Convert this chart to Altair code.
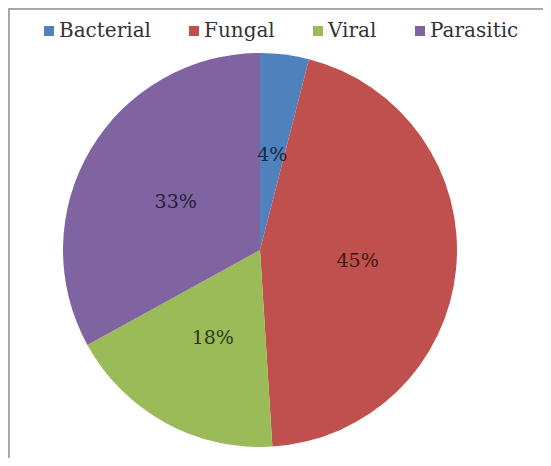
import altair as alt
import pandas as pd

categories = ["Bacterial", "Fungal", "Viral", "Parasitic"]
values = [4, 45, 18, 33]
labels = ["4%", "45%", "18%", "33%"]
colors = ["#4F81BD", "#C0504D", "#9BBB59", "#8064A2"]

df = pd.DataFrame({
    "category": categories,
    "value": values,
    "label": labels,
    "idx": list(range(len(categories))),
})

W, H = 535, 450
CX, CY = 252, 242
R = 197
FONT = "DejaVu Serif"

color = alt.Color(
    "category:N",
    scale=alt.Scale(domain=categories, range=colors),
    sort=categories,
    legend=alt.Legend(
        title=None,
        orient="none",
        legendX=31,
        legendY=13,
        direction="horizontal",
        columns=4,
        symbolType="square",
        symbolSize=100,
        symbolStrokeWidth=0,
        labelFont=FONT,
        labelFontSize=20,
        labelColor="#333333",
        labelOffset=0,
        columnPadding=33,
        padding=0,
    ),
)

base = alt.Chart(df).encode(
    theta=alt.Theta("value:Q", stack=True),
    order=alt.Order("idx:Q"),
)

pie = base.mark_arc(outerRadius=R).encode(
    color=color,
    x=alt.value(CX),
    y=alt.value(CY),
)

text = base.mark_text(
    radius=98,
    font=FONT,
    fontSize=19,
    color="black",
    opacity=0.7,
    dy=2,
).encode(
    text="label:N",
    x=alt.value(CX),
    y=alt.value(CY),
)

top_rule = alt.Chart(df).mark_rule(color="#a6a6a6", strokeWidth=3).encode(
    x=alt.value(0), x2=alt.value(W), y=alt.value(0)
)
left_rule = alt.Chart(df).mark_rule(color="#a6a6a6", strokeWidth=3).encode(
    x=alt.value(0), y=alt.value(0), y2=alt.value(H)
)

chart = alt.layer(pie, text, top_rule, left_rule).properties(
    width=W,
    height=H,
    autosize=alt.AutoSizeParams(type="none"),
    padding={"left": 0, "top": 0, "right": 0, "bottom": 0},
).configure_view(stroke=None).configure(background="white")

chart.save("out.html", embed_options={"renderer": "svg", "actions": False})
